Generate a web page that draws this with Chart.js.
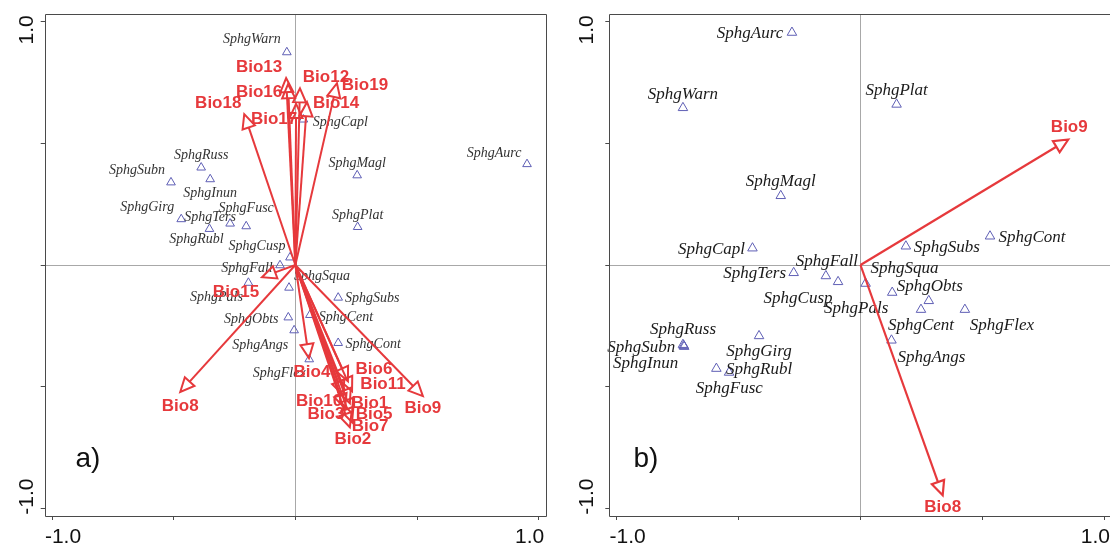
<!DOCTYPE html>
<html>
<head>
<meta charset="utf-8">
<script src="https://cdn.jsdelivr.net/npm/chart.js@4.4.1/dist/chart.umd.min.js"></script>
<style>
  html, body { margin: 0; padding: 0; background: #fff; overflow: hidden; }
  body { width: 1110px; height: 547px; position: relative; }
  #panelB { position: absolute; left: 555px; top: 0; width: 555px; height: 547px; overflow: hidden; }
  canvas { position: absolute; top: 0; left: 0; }
</style>
</head>
<body>
<canvas id="chartA" width="555" height="547"></canvas>
<div id="panelB"><canvas id="chartB" width="600" height="547"></canvas></div>
<script>
// Species scores, same order in both panels
const speciesNames = ['SphgAurc', 'SphgWarn', 'SphgPlat', 'SphgMagl', 'SphgCapl', 'SphgSubs', 'SphgCont',
    'SphgTers', 'SphgFall', 'SphgCusp', 'SphgSqua', 'SphgPals', 'SphgObts', 'SphgCent', 'SphgFlex',
    'SphgAngs', 'SphgRuss', 'SphgSubn', 'SphgInun', 'SphgGirg', 'SphgRubl', 'SphgFusc'];

// panel a)
const speciesXA = [0.952, -0.035, 0.256, 0.254, 0.033, 0.176, 0.176, -0.268, -0.063, -0.022, -0.026,
    -0.193, -0.029, 0.060, 0.057, -0.005, -0.387, -0.511, -0.350, -0.469, -0.353, -0.202];
const speciesYA = [0.414, 0.873, 0.156, 0.368, 0.597, -0.134, -0.320, 0.170, -0.001, 0.031, -0.093,
    -0.073, -0.215, -0.205, -0.387, -0.268, 0.400, 0.339, 0.352, 0.188, 0.148, 0.159];

// panel b)
const speciesXB = [-0.281, -0.728, 0.148, -0.327, -0.443, 0.186, 0.531, -0.274, -0.142, -0.092, 0.021,
    0.130, 0.280, 0.248, 0.428, 0.127, -0.728, -0.723, -0.725, -0.416, -0.539, -0.591];
const speciesYB = [0.954, 0.645, 0.659, 0.284, 0.069, 0.077, 0.118, -0.032, -0.045, -0.069, -0.076,
    -0.113, -0.147, -0.183, -0.183, -0.309, -0.327, -0.335, -0.331, -0.291, -0.441, -0.425];

// Bioclimatic vectors
const bioNamesA = ['Bio1', 'Bio2', 'Bio3', 'Bio4', 'Bio5', 'Bio6', 'Bio7', 'Bio8', 'Bio9', 'Bio10',
    'Bio11', 'Bio12', 'Bio13', 'Bio14', 'Bio15', 'Bio16', 'Bio17', 'Bio18', 'Bio19'];
const bioXA = [0.224, 0.224, 0.204, 0.056, 0.233, 0.216, 0.233, -0.473, 0.524, 0.196,
    0.233, 0.019, -0.038, 0.048, -0.137, -0.030, 0.003, -0.210, 0.171];
const bioYA = [-0.567, -0.666, -0.588, -0.382, -0.608, -0.477, -0.645, -0.521, -0.538, -0.534,
    -0.518, 0.725, 0.767, 0.668, -0.050, 0.742, 0.661, 0.619, 0.746];

const bioNamesB = ['Bio8', 'Bio9'];
const bioXB = [0.337, 0.852];
const bioYB = [-0.945, 0.515];

// Axis ticks (only the ends are labelled)
const tickValues = [-1, -0.5, 0, 0.5, 1];
const tickLabels = ['-1.0', '1.0'];

// Label placement, pixel offsets from the point / arrow tip
const speciesOffsetA = [[-33, -11], [-35, -13], [0, -12], [0, -12], [37, 3], [34, 1], [35, 1],
    [-20, -6], [-33, 3], [-33, -11], [33, -11], [-32, 15], [-37, 2], [36, 2], [-30, 14],
    [-34, 15], [0, -12], [-34, -12], [0, 14], [-34, -12], [-13, 10], [0, -18]];
const speciesOffsetB = [[-42, 1], [0, -13], [0, -14], [0, -14], [-41, 1], [41, 1], [42, 1],
    [-39, 1], [1, -14], [-40, 17], [39, -15], [-36, 16], [1, -14], [0, 16], [37, 16],
    [40, 17], [0, -15], [-43, 1], [-38, 18], [0, 16], [30, -3], [13, 20]];
const bioOffsetA = [[20, 0], [3, 12], [-19, 6], [3, 14], [22, 1], [26, -12], [18, 4], [0, 14],
    [0, 12], [-24, 6], [31, -7], [26, -11], [-27, -11], [29, 1], [-26, 15], [-29, 8],
    [-22, 15], [-26, -11], [28, 2]];
const bioOffsetB = [[0, 12.5], [1, -12]];

const red = '#e6393c';
const triColor = '#5f5fb5';

// Draws species names, arrows, frame and axis labels
const biplotPlugin = {
    id: 'biplot',
    afterDatasetsDraw(chart, args, opts) {
        const { ctx, scales } = chart;
        const x0 = scales.x.getPixelForValue(0);
        const y0 = scales.y.getPixelForValue(0);
        ctx.save();

        ctx.fillStyle = opts.textColor;
        ctx.font = 'italic ' + opts.speciesFont + 'px "Liberation Serif", "DejaVu Serif", serif';
        ctx.textAlign = 'center';
        ctx.textBaseline = 'middle';
        chart.getDatasetMeta(0).data.forEach((pt, i) => {
            const off = opts.speciesOffset[i];
            ctx.fillText(opts.speciesNames[i], pt.x + off[0], pt.y + off[1]);
        });

        ctx.strokeStyle = red;
        ctx.lineWidth = opts.arrowWidth;
        ctx.lineJoin = 'miter';
        const arrows = chart.getDatasetMeta(1).data;
        arrows.forEach(pt => {
            const dx = pt.x - x0, dy = pt.y - y0;
            const len = Math.hypot(dx, dy);
            const ux = dx / len, uy = dy / len;
            const bx = pt.x - ux * 14, by = pt.y - uy * 14;
            ctx.beginPath();
            ctx.moveTo(x0, y0);
            ctx.lineTo(bx, by);
            ctx.stroke();
            ctx.beginPath();
            ctx.moveTo(pt.x, pt.y);
            ctx.lineTo(bx - uy * 6.5, by + ux * 6.5);
            ctx.lineTo(bx + uy * 6.5, by - ux * 6.5);
            ctx.closePath();
            ctx.stroke();
        });

        ctx.fillStyle = red;
        ctx.font = 'bold 17px "Liberation Sans", Arial, sans-serif';
        arrows.forEach((pt, i) => {
            const off = opts.bioOffset[i];
            ctx.fillText(opts.bioNames[i], pt.x + off[0], pt.y + off[1]);
        });
        ctx.restore();
    },
    afterDraw(chart, args, opts) {
        const { ctx, chartArea: a, scales } = chart;
        ctx.save();
        // plot box (panel b's right side lies outside the page)
        const l = Math.round(a.left) + 0.5, r = Math.round(a.right) + 0.5;
        const t = Math.round(a.top) + 0.5, b = Math.round(a.bottom) + 0.5;
        ctx.strokeStyle = '#4a4a4a';
        ctx.lineWidth = 1;
        ctx.beginPath();
        ctx.moveTo(r, t);
        ctx.lineTo(l, t);
        ctx.lineTo(l, b);
        ctx.lineTo(r, b);
        if (opts.frameRight) ctx.lineTo(r, t);
        ctx.stroke();

        ctx.fillStyle = '#111';
        ctx.font = '21px "Liberation Sans", Arial, sans-serif';
        ctx.textAlign = 'center';
        ctx.textBaseline = 'alphabetic';
        // bottom axis
        ctx.fillText(tickLabels[0], scales.x.getPixelForValue(-1) + 11, 543);
        ctx.fillText(tickLabels[1], scales.x.getPixelForValue(1) - 9, 543);
        // left axis, read bottom to top
        [[-1, -12], [1, 8.5]].forEach(([v, shift], i) => {
            ctx.save();
            ctx.translate(opts.yLabelX, scales.y.getPixelForValue(v) + shift);
            ctx.rotate(-Math.PI / 2);
            ctx.fillText(tickLabels[i], 0, 0);
            ctx.restore();
        });

        ctx.font = '28px "Liberation Sans", Arial, sans-serif';
        ctx.textBaseline = 'middle';
        ctx.fillText(opts.tag, opts.tagX, 459);
        ctx.restore();
    }
};

function makeAxis(fixedSize, isY) {
    return {
        type: 'linear',
        min: -1.03,
        max: 1.03,
        afterBuildTicks: s => { s.ticks = tickValues.map(v => ({ value: v })); },
        afterFit: s => {
            if (isY) s.width = fixedSize; else s.height = fixedSize;
            s.paddingLeft = s.paddingRight = s.paddingTop = s.paddingBottom = 0;
        },
        ticks: { display: false },
        border: { display: false },
        grid: {
            color: c => c.tick && c.tick.value === 0 ? '#a8a8a8' : 'rgba(0,0,0,0)',
            tickColor: '#4a4a4a',
            tickLength: 4,
            lineWidth: 1
        }
    };
}

function makeBiplot(id, p) {
    return new Chart(document.getElementById(id), {
        type: 'scatter',
        data: {
            datasets: [
                {
                    label: 'species',
                    data: p.sx.map((x, i) => ({ x: x, y: p.sy[i] })),
                    pointStyle: 'triangle',
                    pointRadius: p.triRadius,
                    borderColor: triColor,
                    backgroundColor: 'rgba(0,0,0,0)',
                    borderWidth: 1
                },
                {
                    label: 'bioclim',
                    data: p.bx.map((x, i) => ({ x: x, y: p.by[i] })),
                    pointRadius: 0
                }
            ]
        },
        options: {
            responsive: false,
            maintainAspectRatio: false,
            animation: false,
            events: [],
            layout: {
                autoPadding: false,
                padding: { top: 14, right: p.padRight, left: 0, bottom: 0 }
            },
            scales: {
                x: makeAxis(31, false),
                y: makeAxis(p.yAxisWidth, true)
            },
            plugins: {
                legend: { display: false },
                tooltip: { enabled: false },
                biplot: {
                    speciesNames: speciesNames,
                    speciesOffset: p.spOff,
                    speciesFont: p.spFont,
                    textColor: p.textColor,
                    bioNames: p.bioNames,
                    bioOffset: p.bioOff,
                    arrowWidth: p.arrowWidth,
                    yLabelX: p.yLabelX,
                    tag: p.tag,
                    tagX: p.tagX,
                    frameRight: p.frameRight
                }
            }
        },
        plugins: [biplotPlugin]
    });
}

makeBiplot('chartA', {
    sx: speciesXA, sy: speciesYA, bx: bioXA, by: bioYA,
    bioNames: bioNamesA, spOff: speciesOffsetA, bioOff: bioOffsetA,
    spFont: 14, textColor: '#333', triRadius: 5, arrowWidth: 2,
    padRight: 9, yAxisWidth: 44.7, yLabelX: 33, tag: 'a)', tagX: 88, frameRight: true
});

makeBiplot('chartB', {
    sx: speciesXB, sy: speciesYB, bx: bioXB, by: bioYB,
    bioNames: bioNamesB, spOff: speciesOffsetB, bioOff: bioOffsetB,
    spFont: 17, textColor: '#1a1a1a', triRadius: 5.5, arrowWidth: 2.2,
    padRight: 43.3, yAxisWidth: 54.3, yLabelX: 38, tag: 'b)', tagX: 91, frameRight: false
});
</script>
</body>
</html>
